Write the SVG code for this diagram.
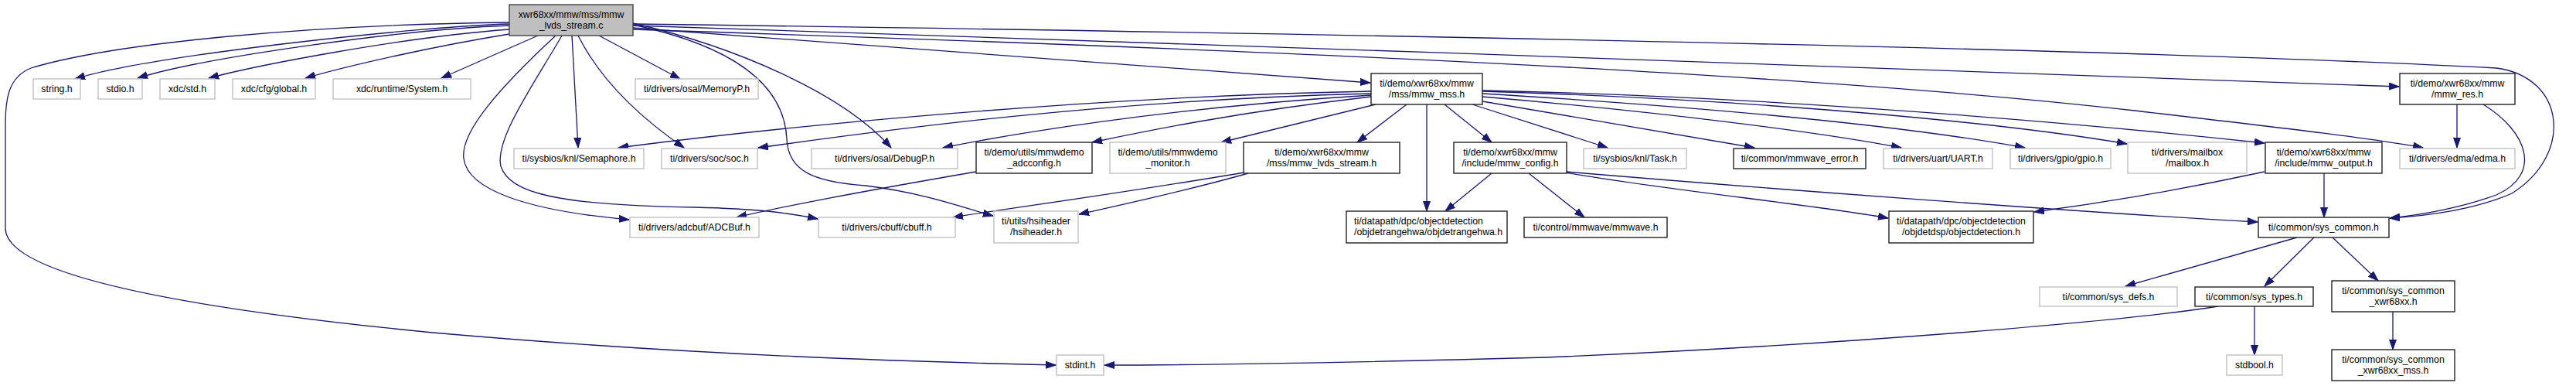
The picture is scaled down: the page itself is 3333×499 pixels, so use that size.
<svg xmlns="http://www.w3.org/2000/svg" width="3333" height="499" viewBox="0 0 3333 499">
<style>
.e{fill:none;stroke:#191970;stroke-width:1.3;marker-end:url(#a)}
.g rect{fill:#fff;stroke:#c0c0c0;stroke-width:1.4}
.b rect{fill:#fff;stroke:#222;stroke-width:1.4}
.r rect{fill:#bfbfbf;stroke:#404040;stroke-width:1.4}
text{font-family:"Liberation Sans",Arial,sans-serif;font-size:12.3px;text-anchor:middle;fill:#000}
text.l{text-anchor:start}
</style>
<defs>
<marker id="a" markerWidth="14" markerHeight="10" refX="13" refY="5" orient="auto" markerUnits="userSpaceOnUse"><path d="M0,0.5 L13,5 L0,9.5 z" fill="#191970" stroke="#191970" stroke-width="1"/></marker>
</defs>
<rect width="3333" height="499" fill="#fff"/>
<g id="edges">
<path class="e" d="M659,31 C560,33 200,70 97,102"/>
<path class="e" d="M659,33 C520,38 260,75 178,101"/>
<path class="e" d="M659,38 C520,48 330,85 270,101"/>
<path class="e" d="M659,44 C560,60 450,85 395,101"/>
<path class="e" d="M696,46 L571,101"/>
<path class="e" d="M775,46 L880,102"/>
<path class="e" d="M740,46 L748,191"/>
<path class="e" d="M748,46 C780,110 840,160 885,191"/>
<path class="e" d="M719,46 C650,110 595,170 600,205 C605,245 680,272 814,284"/>
<path class="e" d="M727,46 C690,110 640,180 648,215 C660,250 720,265 900,268 C980,270 1020,275 1058,283"/>
<path class="e" d="M819,32 C950,60 1015,110 1018,180 C1020,220 1050,235 1120,240 C1200,250 1250,270 1285,279"/>
<path class="e" d="M819,30 C950,60 1090,120 1153,191"/>
<path class="e" d="M659,29 C400,32 150,55 40,88 C10,100 7,130 7,160 L7,295 C7,350 200,395 560,430 C900,460 1200,468 1366,472"/>
<path class="e" d="M819,36 L1773,107"/>
<path class="e" d="M819,31 C1500,40 2700,60 3230,88 C3320,100 3330,200 3250,250 C3200,272 3140,279 3092,282"/>
<path class="e" d="M819,33 C1500,55 2500,90 3104,112"/>
<path class="e" d="M819,38 C1500,60 2300,90 2762,143 C2950,165 3080,180 3135,191"/>
<path class="e" d="M1774,118 C1400,125 1000,165 800,191"/>
<path class="e" d="M1774,121 C1400,130 1100,175 981,191"/>
<path class="e" d="M1774,123 C1500,140 1300,175 1220,191"/>
<path class="e" d="M1774,125 C1600,145 1480,170 1413,184"/>
<path class="e" d="M1780,135 L1580,184"/>
<path class="e" d="M1820,135 L1756,184"/>
<path class="e" d="M1846,135 L1846,273"/>
<path class="e" d="M1869,135 L1930,184"/>
<path class="e" d="M1905,135 L2080,191"/>
<path class="e" d="M1918,131 L2270,191"/>
<path class="e" d="M1918,125 C2150,145 2350,170 2460,191"/>
<path class="e" d="M1918,121 C2200,138 2450,160 2620,191"/>
<path class="e" d="M1918,118 C2300,130 2600,160 2752,186"/>
<path class="e" d="M1918,117 C2300,125 2700,160 2930,185"/>
<path class="e" d="M1610,223 C1450,250 1300,270 1233,281"/>
<path class="e" d="M1615,224 C1530,248 1450,265 1396,277"/>
<path class="e" d="M1263,222 C1100,250 1000,270 953,281"/>
<path class="e" d="M1930,224 L1870,273"/>
<path class="e" d="M1978,224 L2050,281"/>
<path class="e" d="M2026,223 C2150,245 2350,265 2443,282"/>
<path class="e" d="M2026,222 C2300,245 2700,275 2921,287"/>
<path class="e" d="M2930,222 C2800,250 2700,265 2632,274"/>
<path class="e" d="M3007,224 L3007,281"/>
<path class="e" d="M3179,135 L3179,191"/>
<path class="e" d="M3213,135 C3270,170 3290,225 3230,252 C3180,270 3130,278 3092,282"/>
<path class="e" d="M2972,307 L2750,370"/>
<path class="e" d="M2994,307 L2930,370"/>
<path class="e" d="M3018,307 L3077,363"/>
<path class="e" d="M2917,396 L2917,459"/>
<path class="e" d="M2870,396 C2750,415 2400,445 2000,462 C1700,470 1500,472 1429,472"/>
<path class="e" d="M3096,403 L3096,452"/>
</g>
<g id="n_root" class="r"><rect x="659" y="6" width="160" height="40"/><text x="739" y="22.5">xwr68xx/mmw/mss/mmw</text><text x="739" y="37">_lvds_stream.c</text></g>
<g id="n_string" class="g"><rect x="43" y="102" width="61" height="26"/><text x="73.5" y="119">string.h</text></g>
<g id="n_stdio" class="g"><rect x="127" y="102" width="57" height="26"/><text x="155.5" y="119">stdio.h</text></g>
<g id="n_xdcstd" class="g"><rect x="207" y="102" width="71" height="26"/><text x="242.5" y="119">xdc/std.h</text></g>
<g id="n_global" class="g"><rect x="301" y="102" width="107" height="26"/><text x="354.5" y="119">xdc/cfg/global.h</text></g>
<g id="n_system" class="g"><rect x="431" y="102" width="178" height="26"/><text x="520" y="119">xdc/runtime/System.h</text></g>
<g id="n_memoryp" class="g"><rect x="822" y="102" width="159" height="26"/><text x="901.5" y="119">ti/drivers/osal/MemoryP.h</text></g>
<g id="n_mmwmss" class="b"><rect x="1774" y="95" width="144" height="40"/><text x="1846" y="111.5">ti/demo/xwr68xx/mmw</text><text x="1846" y="126">/mss/mmw_mss.h</text></g>
<g id="n_mmwres" class="b"><rect x="3105" y="95" width="149" height="40"/><text x="3179.5" y="111.5">ti/demo/xwr68xx/mmw</text><text x="3179.5" y="126">/mmw_res.h</text></g>
<g id="n_semaphore" class="g"><rect x="665" y="192" width="168" height="26"/><text x="749" y="209">ti/sysbios/knl/Semaphore.h</text></g>
<g id="n_soc" class="g"><rect x="856" y="192" width="124" height="26"/><text x="918" y="209">ti/drivers/soc/soc.h</text></g>
<g id="n_debugp" class="g"><rect x="1050" y="192" width="189" height="26"/><text x="1144.5" y="209">ti/drivers/osal/DebugP.h</text></g>
<g id="n_adcconfig" class="b"><rect x="1263" y="184" width="150" height="40"/><text x="1338" y="200.5">ti/demo/utils/mmwdemo</text><text x="1338" y="215">_adcconfig.h</text></g>
<g id="n_monitor" class="g"><rect x="1436" y="184" width="150" height="40"/><text x="1511" y="200.5">ti/demo/utils/mmwdemo</text><text x="1511" y="215">_monitor.h</text></g>
<g id="n_lvds" class="b"><rect x="1609" y="184" width="202" height="40"/><text x="1710" y="200.5">ti/demo/xwr68xx/mmw</text><text x="1710" y="215">/mss/mmw_lvds_stream.h</text></g>
<g id="n_config" class="b"><rect x="1881" y="184" width="146" height="40"/><text x="1954" y="200.5">ti/demo/xwr68xx/mmw</text><text x="1954" y="215">/include/mmw_config.h</text></g>
<g id="n_task" class="g"><rect x="2049" y="192" width="133" height="26"/><text x="2115.5" y="209">ti/sysbios/knl/Task.h</text></g>
<g id="n_mmwerr" class="b"><rect x="2243" y="192" width="171" height="26"/><text x="2328.5" y="209">ti/common/mmwave_error.h</text></g>
<g id="n_uart" class="g"><rect x="2437" y="192" width="141" height="26"/><text x="2507.5" y="209">ti/drivers/uart/UART.h</text></g>
<g id="n_gpio" class="g"><rect x="2601" y="192" width="130" height="26"/><text x="2666" y="209">ti/drivers/gpio/gpio.h</text></g>
<g id="n_mailbox" class="g"><rect x="2753" y="184" width="154" height="40"/><text x="2830" y="200.5">ti/drivers/mailbox</text><text x="2830" y="215">/mailbox.h</text></g>
<g id="n_output" class="b"><rect x="2931" y="184" width="151" height="40"/><text x="3006.5" y="200.5">ti/demo/xwr68xx/mmw</text><text x="3006.5" y="215">/include/mmw_output.h</text></g>
<g id="n_edma" class="g"><rect x="3105" y="192" width="149" height="26"/><text x="3179.5" y="209">ti/drivers/edma/edma.h</text></g>
<g id="n_adcbuf" class="g"><rect x="815" y="281" width="167" height="26"/><text x="898.5" y="298">ti/drivers/adcbuf/ADCBuf.h</text></g>
<g id="n_cbuff" class="g"><rect x="1059" y="281" width="177" height="26"/><text x="1147.5" y="298">ti/drivers/cbuff/cbuff.h</text></g>
<g id="n_hsi" class="g"><rect x="1286" y="273" width="109" height="41"/><text x="1340.5" y="289.5">ti/utils/hsiheader</text><text x="1340.5" y="304">/hsiheader.h</text></g>
<g id="n_rangehwa" class="b"><rect x="1742" y="273" width="208" height="41"/><text class="l" x="1752" y="289.5">ti/datapath/dpc/objectdetection</text><text class="l" x="1752" y="304">/objdetrangehwa/objdetrangehwa.h</text></g>
<g id="n_mmwave" class="b"><rect x="1972" y="281" width="185" height="26"/><text x="2064.5" y="298">ti/control/mmwave/mmwave.h</text></g>
<g id="n_objdet" class="b"><rect x="2444" y="273" width="187" height="41"/><text x="2537.5" y="289.5">ti/datapath/dpc/objectdetection</text><text x="2537.5" y="304">/objdetdsp/objectdetection.h</text></g>
<g id="n_syscommon" class="b"><rect x="2922" y="281" width="169" height="26"/><text x="3006.5" y="298">ti/common/sys_common.h</text></g>
<g id="n_sysdefs" class="g"><rect x="2639" y="371" width="178" height="25"/><text x="2728" y="388">ti/common/sys_defs.h</text></g>
<g id="n_systypes" class="b"><rect x="2840" y="371" width="153" height="25"/><text x="2916.5" y="388">ti/common/sys_types.h</text></g>
<g id="n_xwr68xx" class="b"><rect x="3017" y="363" width="159" height="40"/><text x="3096.5" y="379.5">ti/common/sys_common</text><text x="3096.5" y="394">_xwr68xx.h</text></g>
<g id="n_stdint" class="g"><rect x="1367" y="459" width="61" height="26"/><text x="1397.5" y="476">stdint.h</text></g>
<g id="n_stdbool" class="g"><rect x="2881" y="459" width="72" height="26"/><text x="2917" y="476">stdbool.h</text></g>
<g id="n_xwr68xxmss" class="b"><rect x="3017" y="452" width="159" height="40"/><text x="3096.5" y="468.5">ti/common/sys_common</text><text x="3096.5" y="483">_xwr68xx_mss.h</text></g>
</svg>
